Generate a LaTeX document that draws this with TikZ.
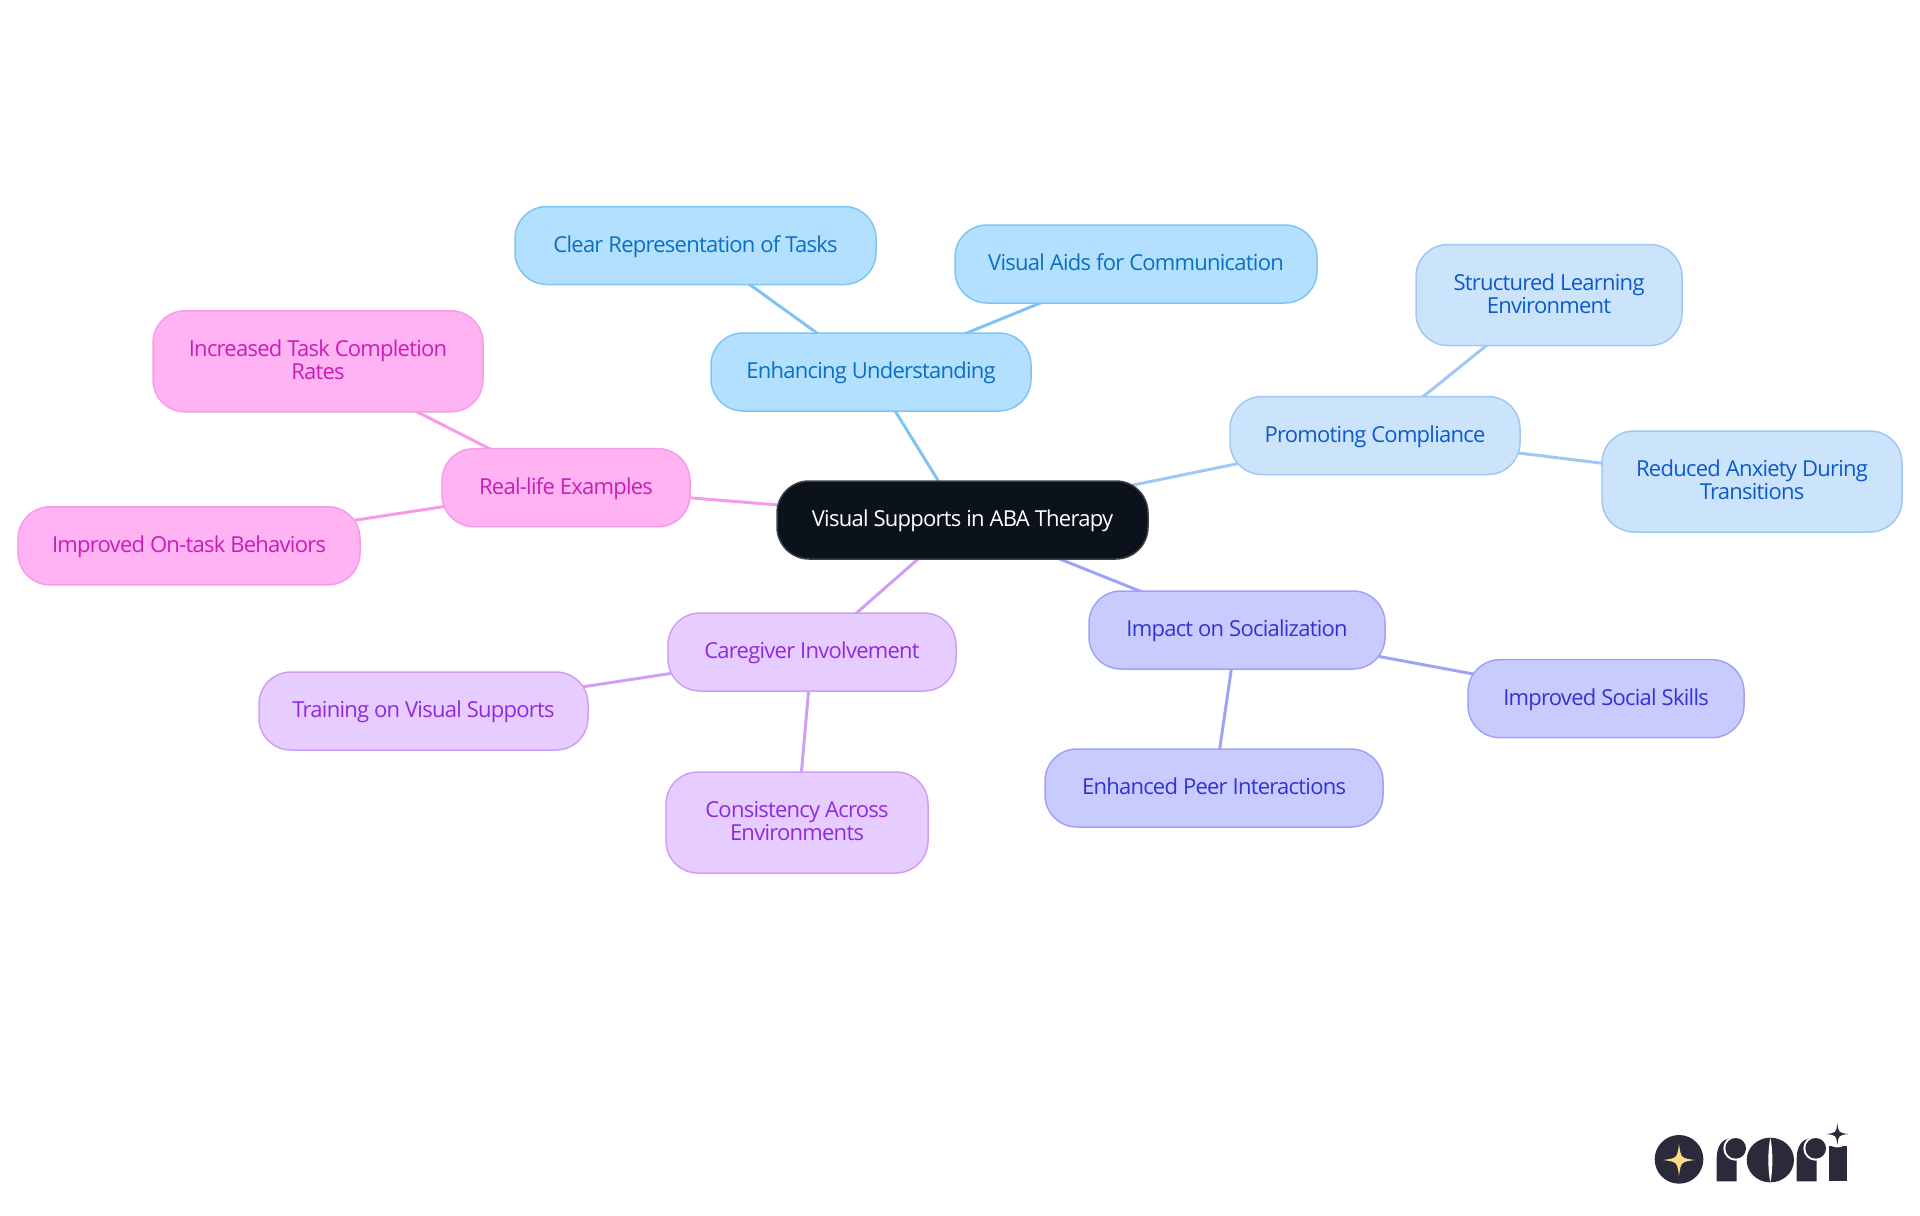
\documentclass[tikz,border=0pt]{standalone}
\usepackage{fontspec}
\setmainfont{Open Sans}[LetterSpace=-3.4]
\usetikzlibrary{backgrounds}
\definecolor{rootfill}{HTML}{0B121B}\definecolor{rootedge}{HTML}{3C4148}
\definecolor{aFill}{HTML}{B3E0FF}\definecolor{aEdge}{HTML}{7FC4F3}\definecolor{aText}{HTML}{0B6FC2}
\definecolor{bFill}{HTML}{CCE3FC}\definecolor{bEdge}{HTML}{A0C8F5}\definecolor{bText}{HTML}{0B5BCB}
\definecolor{cFill}{HTML}{C9CBFF}\definecolor{cEdge}{HTML}{A0A3F5}\definecolor{cText}{HTML}{3034D0}
\definecolor{dFill}{HTML}{E7CCFF}\definecolor{dEdge}{HTML}{CF9FF5}\definecolor{dText}{HTML}{8F2BDD}
\definecolor{eFill}{HTML}{FFB3F3}\definecolor{eEdge}{HTML}{F79BE6}\definecolor{eText}{HTML}{C91DB8}
\definecolor{logoDark}{HTML}{2A2A3A}\definecolor{logoGold}{HTML}{FFD98A}
\tikzset{
  pill/.style={shape=rectangle,rounded corners=16pt,inner sep=0pt,outer sep=0pt,line width=.75pt,
    align=center,font=\fontsize{11}{11.35}\selectfont,minimum width=#1},
  one/.style={minimum height=39pt,text height=8pt,text depth=1.5pt},
  two/.style={minimum height=50.5pt,text height=20pt,text depth=2pt},
  rootnode/.style={pill=#1,one,fill=rootfill,draw=rootedge,text=white},
  na/.style={pill=#1,fill=aFill,draw=aEdge,text=aText},
  nb/.style={pill=#1,fill=bFill,draw=bEdge,text=bText},
  nc/.style={pill=#1,fill=cFill,draw=cEdge,text=cText},
  nd/.style={pill=#1,fill=dFill,draw=dEdge,text=dText},
  ne/.style={pill=#1,fill=eFill,draw=eEdge,text=eText},
  link/.style={line width=1.5pt},
}
\newcommand{\fourstar}[4]{\fill[#4] (#1,#2-#3) .. controls (#1+.12*#3,#2-.12*#3) .. (#1+#3,#2) .. controls (#1+.12*#3,#2+.12*#3) .. (#1,#2+#3) .. controls (#1-.12*#3,#2+.12*#3) .. (#1-#3,#2) .. controls (#1-.12*#3,#2-.12*#3) .. cycle;}
\begin{document}
\begin{tikzpicture}[x=.5pt,y=-.5pt]
\useasboundingbox (0,0) rectangle (1920,1215);
\node[rootnode=185.5pt] (root) at (962.5,520) {Visual Supports in ABA Therapy};
\node[na=160pt,one] (enh) at (871,372) {Enhancing Understanding};
\node[na=180.5pt,one] (clear) at (695.5,245.5) {Clear Representation of Tasks};
\node[na=181pt,one] (aids) at (1136,264) {Visual Aids for Communication};
\node[nb=145pt,one] (prom) at (1375,435.5) {Promoting Compliance};
\node[nb=133pt,two] (struct) at (1549,295) {Structured Learning\\Environment};
\node[nb=150pt,two] (reduced) at (1752,481.5) {Reduced Anxiety During\\Transitions};
\node[nc=148pt,one] (impact) at (1237,630) {Impact on Socialization};
\node[nc=138pt,one] (social) at (1606,698.7) {Improved Social Skills};
\node[nc=169pt,one] (peer) at (1214,788) {Enhanced Peer Interactions};
\node[nd=144pt,one] (care) at (812,652) {Caregiver Involvement};
\node[nd=164.5pt,one] (train) at (423.5,711) {Training on Visual Supports};
\node[nd=131pt,two] (cons) at (797,822.5) {Consistency Across\\Environments};
\node[ne=124pt,one] (real) at (566,487.7) {Real-life Examples};
\node[ne=165pt,two] (incr) at (318,361.3) {Increased Task Completion\\Rates};
\node[ne=171pt,one] (ontask) at (189,545.8) {Improved On-task Behaviors};
\begin{pgfonlayer}{background}
\draw[link,aEdge] (root.center) -- (enh.center);
\draw[link,aEdge] (enh.center) -- (clear.center);
\draw[link,aEdge] (enh.center) -- (aids.center);
\draw[link,bEdge] (root.center) -- (prom.center);
\draw[link,bEdge] (prom.center) -- (struct.center);
\draw[link,bEdge] (prom.center) -- (reduced.center);
\draw[link,cEdge] (root.center) -- (impact.center);
\draw[link,cEdge] (impact.center) -- (social.center);
\draw[link,cEdge] (impact.center) -- (peer.center);
\draw[link,dEdge] (root.center) -- (care.center);
\draw[link,dEdge] (care.center) -- (train.center);
\draw[link,dEdge] (care.center) -- (cons.center);
\draw[link,eEdge] (root.center) -- (real.center);
\draw[link,eEdge] (real.center) -- (incr.center);
\draw[link,eEdge] (real.center) -- (ontask.center);
\end{pgfonlayer}
% logo
\begin{scope}[shift={(1620,1100)},x=.16667pt,y=-.16667pt]
\fill[logoDark] (177,178) circle[radius=73];
\fourstar{177}{180}{48}{logoGold}
\fill[logoDark] (290,244) -- (290,175) .. controls (290,140) and (305,118) .. (330,115) -- (350,115) -- (350,244) -- cycle;
\fill[white] (347,145) circle[radius=37];
\fill[logoDark] (347,145) circle[radius=31];
\fill[logoDark] (451,180) ellipse[x radius=71,y radius=67];
\fill[white] (451,113) .. controls (459,150) and (459,210) .. (451,247) .. controls (443,210) and (443,150) .. (451,113) -- cycle;
\fill[logoDark] (530,244) -- (530,175) .. controls (530,140) and (545,118) .. (570,115) -- (590,115) -- (590,244) -- cycle;
\fill[white] (587,145) circle[radius=37];
\fill[logoDark] (587,145) circle[radius=31];
\fill[logoDark] (627,137) rectangle (680,244);
\fill[white] (652,102) circle[radius=40];
\fourstar{652}{102}{32}{logoDark}
\end{scope}
\end{tikzpicture}
\end{document}
